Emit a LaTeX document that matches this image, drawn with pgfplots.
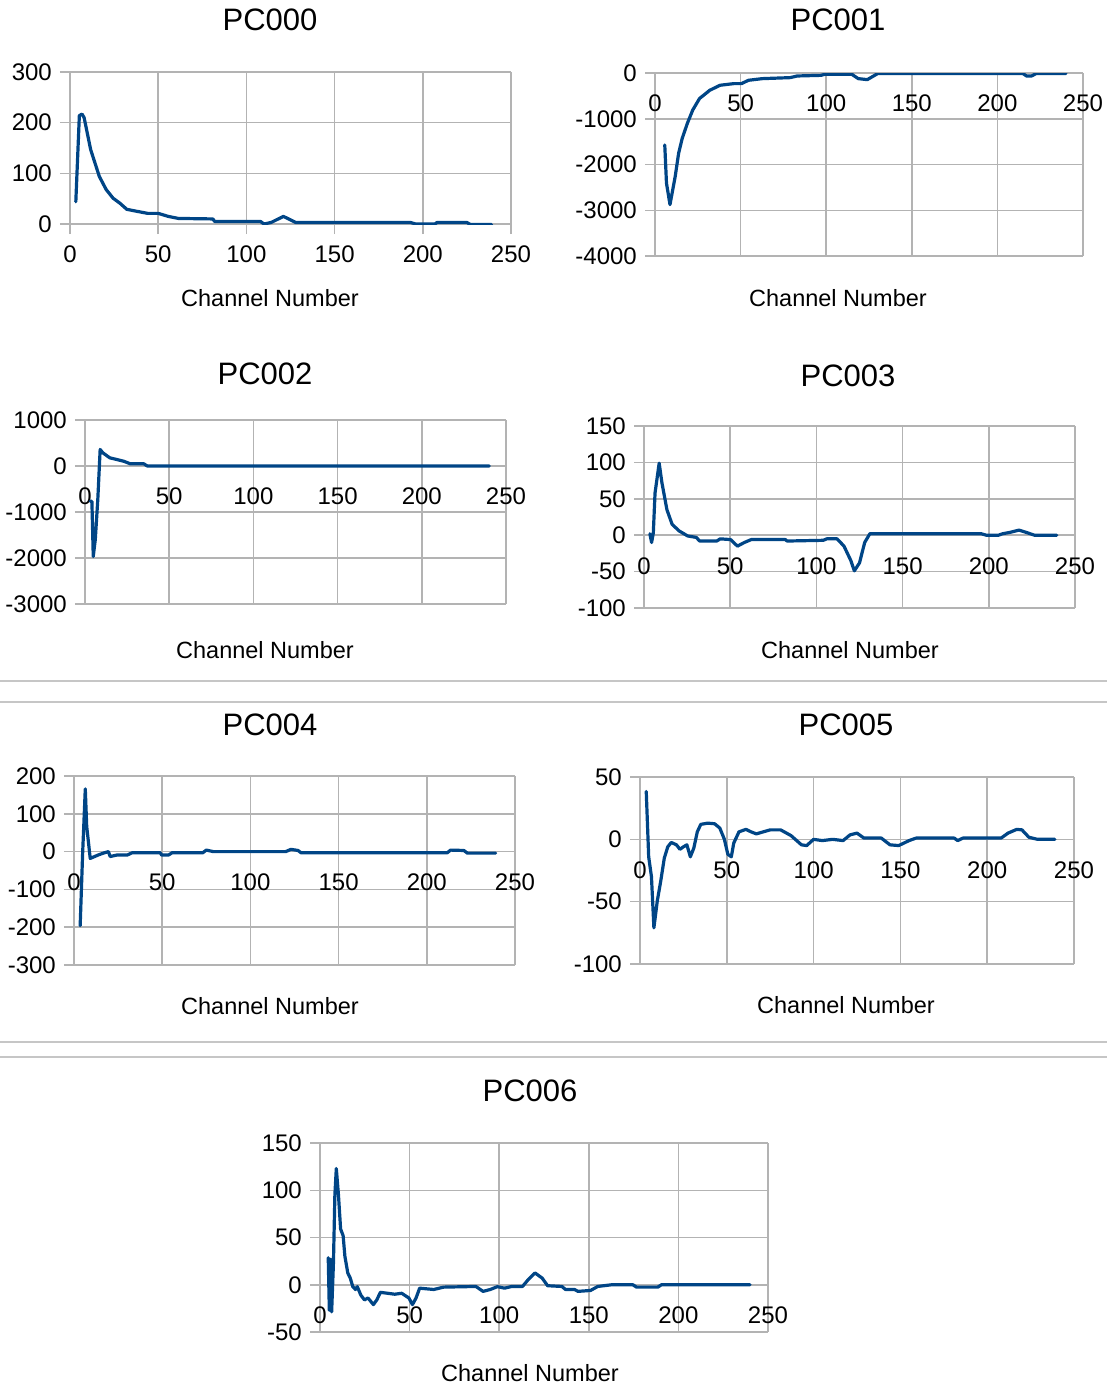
\documentclass[border=0pt]{standalone}
\usepackage{fontspec}
\setmainfont{Liberation Sans}
\usepackage{pgfplots}
\pgfplotsset{compat=1.18}
\definecolor{series}{HTML}{004586}
\definecolor{gridc}{HTML}{B3B3B3}
\definecolor{sepc}{HTML}{C6C6C6}
\tikzset{pcline/.style={draw=series, line width=3.2pt, line join=round, line cap=round, mark=none}}
\pgfplotsset{
 pc/.style={
  scale only axis,
  axis x line*=middle, axis y line*=left,
  axis line style={draw=gridc, line width=1.5pt, -},
  hide obscured x ticks=false, hide obscured y ticks=false,
  xmin=0, xmax=250, xtick={0,50,...,250},
  grid=major, major grid style={draw=gridc, line width=1.5pt},
  tick style={draw=gridc, line width=1.5pt},
  major tick length=10pt,
  tick align=outside,
  ticklabel style={font=\fontsize{24}{28}\selectfont, text=black},
  /pgf/number format/assume math mode=true,
  /pgf/number format/1000 sep={},
  xticklabel style={anchor=north, inner sep=0pt, yshift=-12pt},
  yticklabel style={anchor=east, inner sep=0pt, xshift=-8pt},
 }
}
\begin{document}
\begin{tikzpicture}
\useasboundingbox (0,0) rectangle (1107pt,-1387pt);
\tikzset{ttl/.style={font=\fontsize{31}{36}\selectfont, text=black}, xl/.style={font=\fontsize{23.5}{28}\selectfont, text=black}}
% separators
\draw[sepc, line width=1.5pt] (0,-681pt) -- (1107pt,-681pt);
\draw[sepc, line width=1.5pt] (0,-702pt) -- (1107pt,-702pt);
\draw[sepc, line width=1.5pt] (0,-1042pt) -- (1107pt,-1042pt);
\draw[sepc, line width=1.5pt] (0,-1057pt) -- (1107pt,-1057pt);

% PC000
\node[ttl] at (270pt,-20pt) {PC000};
\node[xl] at (270pt,-298pt) {Channel Number};
\begin{axis}[pc, at={(70pt,-224pt)}, anchor=south west, width=441pt, height=152pt,
  ymin=0, ymax=300, ytick={0,100,200,300}]
\addplot[pcline] coordinates {(3.3,44) (5.3,214) (6.8,217) (8,210) (11.7,147) (16.6,94) (20.5,68) (24.4,51) (28.3,41) (32.2,29) (38,25) (44,21) (50,21) (55.7,15) (61.5,11) (81,10) (82,5) (108,5) (110,0) (114,3) (121,15) (128,3) (193,3) (196,0) (207,0) (208,3) (225,3) (227,-1) (239,-1)};
\end{axis}

% PC001
\node[ttl] at (838pt,-20pt) {PC001};
\node[xl] at (838pt,-298pt) {Channel Number};
\begin{axis}[pc, at={(655pt,-256pt)}, anchor=south west, width=428pt, height=183pt,
  ymin=-4000, ymax=0, ytick={-4000,-3000,-2000,-1000,0}]
\addplot[pcline] coordinates {(5.7,-1572) (6.7,-2406) (8.75,-2877) (11.8,-2261) (13.8,-1754) (15.9,-1428) (18.9,-1101) (22,-812) (26,-558) (32,-377) (38,-268) (46,-232) (50.5,-232) (54.6,-159) (62.7,-123) (79,-101) (83,-65) (97,-51) (99,-29) (115,-29) (118.7,-123) (124,-145) (130,-14) (215,-14) (217,-65) (220,-65) (222.5,-14) (240,-14)};
\end{axis}

% PC002
\node[ttl] at (265pt,-374pt) {PC002};
\node[xl] at (265pt,-650pt) {Channel Number};
\begin{axis}[pc, at={(85pt,-604pt)}, anchor=south west, width=421pt, height=184pt,
  ymin=-3000, ymax=1000, ytick={-3000,-2000,-1000,0,1000}]
\addplot[pcline] coordinates {(3.1,-767) (4.1,-767) (4.9,-1967) (6.1,-1603) (7.6,-730) (9,360) (10.6,287) (14.7,178) (18.8,142) (22.9,105) (27,47) (35,47) (37,0) (240,0)};
\end{axis}

% PC003
\node[ttl] at (848pt,-376pt) {PC003};
\node[xl] at (850pt,-650pt) {Channel Number};
\begin{axis}[pc, at={(644pt,-608pt)}, anchor=south west, width=431pt, height=182pt,
  ymin=-100, ymax=150, ytick={-100,-50,0,50,100,150}]
\addplot[pcline] coordinates {(3.4,2) (4.4,-10) (5.4,3) (6.4,58) (8.8,99) (10.4,72) (13.3,35) (16.3,15) (20.3,6) (25.3,-1) (30.3,-3) (32.3,-8) (42.2,-8) (44.2,-5) (50.2,-6) (54.2,-15) (58.2,-10) (62.2,-6) (82,-6) (83,-8) (104,-7) (106,-5) (112,-5) (116,-15) (120,-35) (122,-49) (125,-38) (128,-10) (131,2) (195.6,2) (198.6,0) (205.6,0) (208,2) (212.5,4) (217.5,7) (221.5,4) (226.5,0) (239.4,0)};
\end{axis}

% PC004
\node[ttl] at (270pt,-725pt) {PC004};
\node[xl] at (270pt,-1006pt) {Channel Number};
\begin{axis}[pc, at={(74pt,-965pt)}, anchor=south west, width=441pt, height=189pt,
  ymin=-300, ymax=200, ytick={-300,-200,...,200}]
\addplot[pcline] coordinates {(3.5,-196) (4.9,-4) (6.4,166) (7.2,67) (9.2,-18) (11.7,-13) (13.7,-9) (16.6,-4) (19.5,0) (20.5,-13) (24.4,-9) (30.2,-9) (33,-3) (48.8,-3) (49.7,-9) (53.6,-9) (55.6,-3) (73,-3) (75,4) (79,0) (120,0) (123,6) (127,3) (128.7,-3) (211.6,-3) (213.5,4) (221,3) (223,-4) (239,-4)};
\end{axis}

% PC005
\node[ttl] at (846pt,-725pt) {PC005};
\node[xl] at (846pt,-1005pt) {Channel Number};
\begin{axis}[pc, at={(640pt,-964pt)}, anchor=south west, width=434pt, height=187pt,
  ymin=-100, ymax=50, ytick={-100,-50,0,50}]
\addplot[pcline] coordinates {(3.6,38.4) (5,-14) (6.6,-30) (8,-71) (10,-49) (12,-33) (14,-15) (16,-6) (18,-2.5) (21,-4.4) (23,-8) (25,-6) (27,-4.4) (29,-14) (31,-7) (33,6) (35,12) (39,13) (43,12.5) (46,9) (48.6,0) (50.6,-12) (52.6,-14) (54,-3) (57,6) (61,8) (64,6) (67,4.4) (75,7.6) (81,7.6) (87,3) (93,-4.4) (96,-5) (100,0) (105,-1) (111,0) (117,-1) (121,3.6) (125,5) (129,1) (139,1) (144,-4.4) (149,-5) (155,-1) (159,1) (181,1) (183,-1) (186,1) (208,1) (212,5) (217,8) (220,7.6) (224,1.7) (229,0) (239,0)};
\end{axis}

% PC006
\node[ttl] at (530pt,-1091pt) {PC006};
\node[xl] at (530pt,-1373pt) {Channel Number};
\begin{axis}[pc, at={(320pt,-1332pt)}, anchor=south west, width=448pt, height=189pt,
  ymin=-50, ymax=150, ytick={-50,0,50,100,150}]
\addplot[pcline] coordinates {(4.6,28.6) (5.2,-27) (6,27) (6.5,-28.6) (7.5,23) (8.3,95) (9.1,123) (10.3,95) (11.5,59) (12.9,52) (13.9,30) (15.5,12.5) (16.9,7) (18.3,-2) (19.8,-5) (20.8,-2) (22.8,-11) (24.8,-16) (26.8,-14) (29.8,-21) (31.7,-16) (33.7,-8) (37.7,-9) (41.7,-10) (45.6,-9) (49.6,-14) (51.6,-21) (53.6,-14) (55.6,-3.6) (63.5,-5) (69,-2.5) (87,-1.8) (91,-7) (95,-5) (99,-2) (103,-3.6) (107,-1.8) (113,-1.8) (116,5) (120,12.5) (124,7) (127,-1) (135,-1.8) (137,-5) (142,-5) (144,-7) (151,-6) (155,-1.8) (162.7,0) (174.6,0) (176.6,-2.5) (188.5,-2.5) (190.5,0) (240,0)};
\end{axis}
\end{tikzpicture}
\end{document}
